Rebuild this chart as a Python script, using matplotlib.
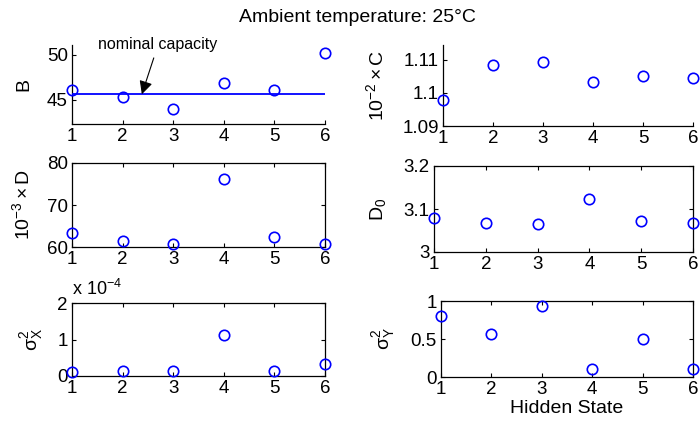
import matplotlib
matplotlib.use("Agg")
import matplotlib.pyplot as plt

plt.rcParams['font.family'] = ['Liberation Sans', 'DejaVu Sans']
plt.rcParams['mathtext.fontset'] = 'custom'
plt.rcParams['mathtext.rm'] = 'Liberation Sans'
plt.rcParams['mathtext.it'] = 'Liberation Sans:italic'
plt.rcParams['mathtext.bf'] = 'Liberation Sans:bold'

states = [1, 2, 3, 4, 5, 6]
B = [46.07, 45.33, 44.0, 46.85, 46.15, 50.19]
nominal_B = 45.63
C = [1.0979, 1.1086, 1.1095, 1.1034, 1.1051, 1.1045]        # x 1e-2
D = [63.3, 61.35, 60.8, 76.3, 62.4, 60.7]                    # x 1e-3
D0 = [3.079, 3.0685, 3.065, 3.123, 3.073, 3.068]
sigx2 = [0.12, 0.14, 0.15, 1.11, 0.13, 0.34]                 # x 1e-4
sigy2 = [0.80, 0.56, 0.93, 0.11, 0.50, 0.105]

W, H = 700, 428
fig = plt.figure(figsize=(7, 4.28), dpi=100)

def box(l, t, r, b):
    return [l / W, 1 - b / H, (r - l) / W, (b - t) / H]

panels = [
    # data, px box, ylim, yticks, ylabel, label x, boxed
    (B, box(72, 45, 325, 124), (42.33, 51.1), [45, 50], 'B', -0.158, False),
    (C, box(443, 45, 693, 126), (1.09, 1.1145), [1.09, 1.1, 1.11], r'$10^{-2}\times\mathrm{C}$', -0.224, False),
    (D, box(72, 163, 325, 247), (60, 80), [60, 70, 80], r'$10^{-3}\times\mathrm{D}$', -0.154, True),
    (D0, box(434, 166, 693, 252), (3.0, 3.2), [3, 3.1, 3.2], r'$\mathrm{D}_0$', -0.178, True),
    (sigx2, box(72, 303, 325, 376), (0, 2), [0, 1, 2], r'$\mathrm{σ}_\mathrm{X}^2$', -0.107, True),
    (sigy2, box(441, 301, 693, 377), (0, 1), [0, 0.5, 1], r'$\mathrm{σ}_\mathrm{Y}^2$', -0.175, True),
]

axes = []
for vals, pos, ylim, yt, lab, lx, boxed in panels:
    ax = fig.add_axes(pos)
    ax.plot(states, vals, 'o', mfc='none', mec='#0000ff', ms=7.5, mew=1.2, clip_on=False, zorder=5)
    ax.set_xlim(1, 6)
    ax.set_ylim(*ylim)
    ax.set_xticks(states)
    ax.set_yticks(yt)
    ax.set_yticklabels(['%g' % v for v in yt])
    ax.tick_params(direction='in', labelsize=13.5, length=3, pad=3, width=0.8,
                   top=boxed, right=boxed)
    for s in ax.spines.values():
        s.set_linewidth(0.9)
    if not boxed:
        ax.spines['top'].set_visible(False)
        ax.spines['right'].set_visible(False)
    ax.set_ylabel(lab, fontsize=14)
    ax.yaxis.set_label_coords(lx, 0.5)
    axes.append(ax)

ax = axes[0]
ax.axhline(nominal_B, color='#0000ff', lw=1.3, zorder=3)
ax.annotate('nominal capacity', xy=(2.38, nominal_B), xytext=(2.7, 51.1),
            ha='center', va='center', fontsize=11.5, annotation_clip=False,
            arrowprops=dict(arrowstyle='-|>', color='black', lw=0.8,
                            mutation_scale=20, shrinkA=2, shrinkB=0))

axes[5].set_xlabel('Hidden State', fontsize=14, labelpad=1)

fig.text(72 / W, 1 - 295 / H, r'x $10^{-4}$', fontsize=13, ha='left', va='baseline')
fig.text(357 / W, 1 - 17 / H, 'Ambient temperature: 25°C', fontsize=14, ha='center', va='center')

fig.savefig('out.png', dpi=100)
